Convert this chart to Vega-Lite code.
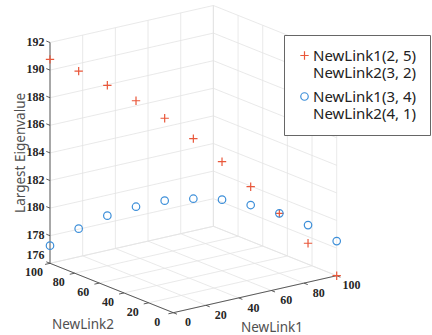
{
  "$schema": "https://vega.github.io/schema/vega-lite/v6.json",
  "width": 432,
  "height": 335,
  "padding": 0,
  "autosize": {"type": "none"},
  "background": "white",
  "config": {"view": {"stroke": null}},
  "datasets": {
    "ticks": [
      {"axis": "x", "v": 0}, {"axis": "x", "v": 20}, {"axis": "x", "v": 40}, {"axis": "x", "v": 60}, {"axis": "x", "v": 80}, {"axis": "x", "v": 100},
      {"axis": "y", "v": 0}, {"axis": "y", "v": 20}, {"axis": "y", "v": 40}, {"axis": "y", "v": 60}, {"axis": "y", "v": 80}, {"axis": "y", "v": 100},
      {"axis": "z", "v": 176}, {"axis": "z", "v": 178}, {"axis": "z", "v": 180}, {"axis": "z", "v": 182}, {"axis": "z", "v": 184}, {"axis": "z", "v": 186}, {"axis": "z", "v": 188}, {"axis": "z", "v": 190}, {"axis": "z", "v": 192}
    ],
    "titles": [
      {"axis": "x", "text": "NewLink1"},
      {"axis": "y", "text": "NewLink2"},
      {"axis": "z", "text": "Largest Eigenvalue"}
    ],
    "pts": [
      {"series": "NewLink1(2, 5)|NewLink2(3, 2)", "NewLink1": 0, "NewLink2": 100, "eig": 190.78},
      {"series": "NewLink1(2, 5)|NewLink2(3, 2)", "NewLink1": 10, "NewLink2": 90, "eig": 190.02},
      {"series": "NewLink1(2, 5)|NewLink2(3, 2)", "NewLink1": 20, "NewLink2": 80, "eig": 189.08},
      {"series": "NewLink1(2, 5)|NewLink2(3, 2)", "NewLink1": 30, "NewLink2": 70, "eig": 188.05},
      {"series": "NewLink1(2, 5)|NewLink2(3, 2)", "NewLink1": 40, "NewLink2": 60, "eig": 186.87},
      {"series": "NewLink1(2, 5)|NewLink2(3, 2)", "NewLink1": 50, "NewLink2": 50, "eig": 185.48},
      {"series": "NewLink1(2, 5)|NewLink2(3, 2)", "NewLink1": 60, "NewLink2": 40, "eig": 183.90},
      {"series": "NewLink1(2, 5)|NewLink2(3, 2)", "NewLink1": 70, "NewLink2": 30, "eig": 182.18},
      {"series": "NewLink1(2, 5)|NewLink2(3, 2)", "NewLink1": 80, "NewLink2": 20, "eig": 180.34},
      {"series": "NewLink1(2, 5)|NewLink2(3, 2)", "NewLink1": 90, "NewLink2": 10, "eig": 178.26},
      {"series": "NewLink1(2, 5)|NewLink2(3, 2)", "NewLink1": 100, "NewLink2": 0, "eig": 176.0},
      {"series": "NewLink1(3, 4)|NewLink2(4, 1)", "NewLink1": 0, "NewLink2": 100, "eig": 177.28},
      {"series": "NewLink1(3, 4)|NewLink2(4, 1)", "NewLink1": 10, "NewLink2": 90, "eig": 178.60},
      {"series": "NewLink1(3, 4)|NewLink2(4, 1)", "NewLink1": 20, "NewLink2": 80, "eig": 179.63},
      {"series": "NewLink1(3, 4)|NewLink2(4, 1)", "NewLink1": 30, "NewLink2": 70, "eig": 180.37},
      {"series": "NewLink1(3, 4)|NewLink2(4, 1)", "NewLink1": 40, "NewLink2": 60, "eig": 180.90},
      {"series": "NewLink1(3, 4)|NewLink2(4, 1)", "NewLink1": 50, "NewLink2": 50, "eig": 181.13},
      {"series": "NewLink1(3, 4)|NewLink2(4, 1)", "NewLink1": 60, "NewLink2": 40, "eig": 181.15},
      {"series": "NewLink1(3, 4)|NewLink2(4, 1)", "NewLink1": 70, "NewLink2": 30, "eig": 180.85},
      {"series": "NewLink1(3, 4)|NewLink2(4, 1)", "NewLink1": 80, "NewLink2": 20, "eig": 180.34},
      {"series": "NewLink1(3, 4)|NewLink2(4, 1)", "NewLink1": 90, "NewLink2": 10, "eig": 179.58},
      {"series": "NewLink1(3, 4)|NewLink2(4, 1)", "NewLink1": 100, "NewLink2": 0, "eig": 178.51}
    ]
  },
  "encoding": {
    "x": {"field": "u", "type": "quantitative", "scale": {"domain": [-173.3, 258.7], "nice": false, "zero": false}, "axis": null},
    "y": {"field": "w", "type": "quantitative", "scale": {"domain": [-22.3, 312.7], "nice": false, "zero": false}, "axis": null}
  },
  "layer": [
    {
      "data": {"name": "ticks"},
      "transform": [
        {"filter": "datum.axis === 'x'"},
        {"calculate": "1.634*datum.v - 1.233*0", "as": "u"},
        {"calculate": "0.37*datum.v + 0.494*0", "as": "w"},
        {"calculate": "1.634*datum.v - 1.233*100", "as": "u2"},
        {"calculate": "0.37*datum.v + 0.494*100", "as": "w2"}
      ],
      "mark": {"type": "rule", "color": "#e3e3e3", "strokeWidth": 0.8},
      "encoding": {"x2": {"field": "u2"}, "y2": {"field": "w2"}}
    },
    {
      "data": {"name": "ticks"},
      "transform": [
        {"filter": "datum.axis === 'x'"},
        {"calculate": "1.634*datum.v - 1.233*100", "as": "u"},
        {"calculate": "0.37*datum.v + 0.494*100", "as": "w"},
        {"calculate": "1.634*datum.v - 1.233*100", "as": "u2"},
        {"calculate": "0.37*datum.v + 0.494*100 + 13.8*(192-176)", "as": "w2"}
      ],
      "mark": {"type": "rule", "color": "#e3e3e3", "strokeWidth": 0.8},
      "encoding": {"x2": {"field": "u2"}, "y2": {"field": "w2"}}
    },
    {
      "data": {"name": "ticks"},
      "transform": [
        {"filter": "datum.axis === 'y'"},
        {"calculate": "1.634*0 - 1.233*datum.v", "as": "u"},
        {"calculate": "0.37*0 + 0.494*datum.v", "as": "w"},
        {"calculate": "1.634*100 - 1.233*datum.v", "as": "u2"},
        {"calculate": "0.37*100 + 0.494*datum.v", "as": "w2"}
      ],
      "mark": {"type": "rule", "color": "#e3e3e3", "strokeWidth": 0.8},
      "encoding": {"x2": {"field": "u2"}, "y2": {"field": "w2"}}
    },
    {
      "data": {"name": "ticks"},
      "transform": [
        {"filter": "datum.axis === 'y'"},
        {"calculate": "1.634*100 - 1.233*datum.v", "as": "u"},
        {"calculate": "0.37*100 + 0.494*datum.v", "as": "w"},
        {"calculate": "1.634*100 - 1.233*datum.v", "as": "u2"},
        {"calculate": "0.37*100 + 0.494*datum.v + 13.8*(192-176)", "as": "w2"}
      ],
      "mark": {"type": "rule", "color": "#e3e3e3", "strokeWidth": 0.8},
      "encoding": {"x2": {"field": "u2"}, "y2": {"field": "w2"}}
    },
    {
      "data": {"name": "ticks"},
      "transform": [
        {"filter": "datum.axis === 'z'"},
        {"calculate": "1.634*0 - 1.233*100", "as": "u"},
        {"calculate": "0.37*0 + 0.494*100 + 13.8*(datum.v-176)", "as": "w"},
        {"calculate": "1.634*100 - 1.233*100", "as": "u2"},
        {"calculate": "0.37*100 + 0.494*100 + 13.8*(datum.v-176)", "as": "w2"}
      ],
      "mark": {"type": "rule", "color": "#e3e3e3", "strokeWidth": 0.8},
      "encoding": {"x2": {"field": "u2"}, "y2": {"field": "w2"}}
    },
    {
      "data": {"name": "ticks"},
      "transform": [
        {"filter": "datum.axis === 'z'"},
        {"calculate": "1.634*100 - 1.233*100", "as": "u"},
        {"calculate": "0.37*100 + 0.494*100 + 13.8*(datum.v-176)", "as": "w"},
        {"calculate": "1.634*100 - 1.233*0", "as": "u2"},
        {"calculate": "0.37*100 + 0.494*0 + 13.8*(datum.v-176)", "as": "w2"}
      ],
      "mark": {"type": "rule", "color": "#e3e3e3", "strokeWidth": 0.8},
      "encoding": {"x2": {"field": "u2"}, "y2": {"field": "w2"}}
    },
    {
      "data": {"name": "ticks"},
      "transform": [
        {"aggregate": [{"op": "min", "field": "v", "as": "lo"}, {"op": "max", "field": "v", "as": "hi"}], "groupby": ["axis"]},
        {"calculate": "datum.axis === 'x' ? 1.634*datum.lo : datum.axis === 'y' ? -1.233*datum.lo : -1.233*100", "as": "u"},
        {"calculate": "datum.axis === 'x' ? 0.37*datum.lo : datum.axis === 'y' ? 0.494*datum.lo : 0.494*100 + 13.8*(datum.lo-176)", "as": "w"},
        {"calculate": "datum.axis === 'x' ? 1.634*datum.hi : datum.axis === 'y' ? -1.233*datum.hi : -1.233*100", "as": "u2"},
        {"calculate": "datum.axis === 'x' ? 0.37*datum.hi : datum.axis === 'y' ? 0.494*datum.hi : 0.494*100 + 13.8*(datum.hi-176)", "as": "w2"}
      ],
      "mark": {"type": "rule", "color": "#4a4a4a", "strokeWidth": 0.9},
      "encoding": {"x2": {"field": "u2"}, "y2": {"field": "w2"}}
    },
    {
      "data": {"name": "ticks"},
      "transform": [
        {"calculate": "datum.axis === 'x' ? 1.634*datum.v : datum.axis === 'y' ? -1.233*datum.v : -1.233*100", "as": "u"},
        {"calculate": "datum.axis === 'x' ? 0.37*datum.v : datum.axis === 'y' ? 0.494*datum.v : 0.494*100 + 13.8*(datum.v-176)", "as": "w"},
        {"calculate": "datum.axis === 'x' ? 1.634*datum.v - 1.233*(-3) : datum.axis === 'y' ? 1.634*(-3) - 1.233*datum.v : -1.233*103", "as": "u2"},
        {"calculate": "datum.axis === 'x' ? 0.37*datum.v + 0.494*(-3) : datum.axis === 'y' ? 0.37*(-3) + 0.494*datum.v : 0.494*103 + 13.8*(datum.v-176)", "as": "w2"}
      ],
      "mark": {"type": "rule", "color": "#4a4a4a", "strokeWidth": 0.9},
      "encoding": {"x2": {"field": "u2"}, "y2": {"field": "w2"}}
    },
    {
      "data": {"name": "ticks"},
      "transform": [
        {"filter": "datum.axis === 'z'"},
        {"calculate": "-1.233*100", "as": "u"},
        {"calculate": "0.494*100 + 13.8*(datum.v-176) + (datum.v === 176 ? 7 : 0)", "as": "w"}
      ],
      "mark": {"type": "text", "align": "right", "baseline": "middle", "dx": -5.5, "dy": -1, "font": "Liberation Serif", "fontWeight": "bold", "fontSize": 12, "color": "#262626"},
      "encoding": {"text": {"field": "v", "type": "quantitative", "format": "d"}}
    },
    {
      "data": {"name": "ticks"},
      "transform": [
        {"filter": "datum.axis === 'y'"},
        {"calculate": "-1.233*datum.v", "as": "u"},
        {"calculate": "0.494*datum.v", "as": "w"}
      ],
      "mark": {"type": "text", "align": "center", "baseline": "middle", "dx": -16, "dy": 8.8, "font": "Liberation Serif", "fontWeight": "bold", "fontSize": 12, "color": "#262626"},
      "encoding": {"text": {"field": "v", "type": "quantitative", "format": "d"}}
    },
    {
      "data": {"name": "ticks"},
      "transform": [
        {"filter": "datum.axis === 'x'"},
        {"calculate": "1.634*datum.v", "as": "u"},
        {"calculate": "0.37*datum.v", "as": "w"}
      ],
      "mark": {"type": "text", "align": "center", "baseline": "middle", "dx": 14.8, "dy": 9.6, "font": "Liberation Serif", "fontWeight": "bold", "fontSize": 12, "color": "#262626"},
      "encoding": {"text": {"field": "v", "type": "quantitative", "format": "d"}}
    },
    {
      "data": {"name": "titles"},
      "transform": [
        {"filter": "datum.axis === 'x'"},
        {"calculate": "1.634*50", "as": "u"},
        {"calculate": "0.37*50", "as": "w"}
      ],
      "mark": {"type": "text", "align": "center", "baseline": "middle", "dx": 17, "dy": 33.8, "font": "Noto Sans", "fontSize": 13.5, "color": "#505050"},
      "encoding": {"text": {"field": "text"}}
    },
    {
      "data": {"name": "titles"},
      "transform": [
        {"filter": "datum.axis === 'y'"},
        {"calculate": "-1.233*50", "as": "u"},
        {"calculate": "0.494*50", "as": "w"}
      ],
      "mark": {"type": "text", "align": "center", "baseline": "middle", "dx": -28.7, "dy": 37, "font": "Noto Sans", "fontSize": 13.5, "color": "#505050"},
      "encoding": {"text": {"field": "text"}}
    },
    {
      "data": {"name": "titles"},
      "transform": [
        {"filter": "datum.axis === 'z'"},
        {"calculate": "-1.233*100", "as": "u"},
        {"calculate": "0.494*100 + 13.8*(184-176)", "as": "w"}
      ],
      "mark": {"type": "text", "align": "center", "baseline": "middle", "angle": 270, "dy": -29, "font": "Noto Sans", "fontSize": 13.5, "color": "#505050"},
      "encoding": {"text": {"field": "text"}}
    },
    {
      "data": {"name": "pts"},
      "transform": [
        {"calculate": "1.634*datum.NewLink1 - 1.233*datum.NewLink2", "as": "u"},
        {"calculate": "0.37*datum.NewLink1 + 0.494*datum.NewLink2 + 13.8*(datum.eig-176)", "as": "w"}
      ],
      "mark": {"type": "point", "filled": false, "strokeWidth": 1.2, "opacity": 1},
      "encoding": {
        "color": {
          "field": "series", "type": "nominal",
          "scale": {"domain": ["NewLink1(2, 5)|NewLink2(3, 2)", "NewLink1(3, 4)|NewLink2(4, 1)"], "range": ["#E9573A", "#3D8FD9"]},
          "legend": {
            "title": null, "orient": "none", "legendX": 284, "legendY": 35,
            "labelExpr": "split(datum.label, '|')",
            "fillColor": "#ffffff", "strokeColor": "#666666", "padding": 13,
            "labelFont": "Noto Sans", "labelFontSize": 15, "labelColor": "#222222", "labelLimit": 0,
            "labelOffset": 1, "rowPadding": 8, "symbolStrokeWidth": 1.2, "labelBaseline": "middle",
            "encode": {"labels": {"update": {"dy": {"value": 10}, "lineHeight": {"value": 20}}}}
          }
        },
        "shape": {
          "field": "series", "type": "nominal",
          "scale": {"domain": ["NewLink1(2, 5)|NewLink2(3, 2)", "NewLink1(3, 4)|NewLink2(4, 1)"], "range": ["M-1,0H1M0,-1V1", "circle"]},
          "legend": {
            "title": null, "orient": "none", "legendX": 284, "legendY": 35,
            "labelExpr": "split(datum.label, '|')",
            "fillColor": "#ffffff", "strokeColor": "#666666", "padding": 13,
            "labelFont": "Noto Sans", "labelFontSize": 15, "labelColor": "#222222", "labelLimit": 0,
            "labelOffset": 1, "rowPadding": 8, "symbolStrokeWidth": 1.2, "labelBaseline": "middle",
            "encode": {"labels": {"update": {"dy": {"value": 10}, "lineHeight": {"value": 20}}}}
          }
        },
        "size": {"field": "series", "type": "nominal", "scale": {"domain": ["NewLink1(2, 5)|NewLink2(3, 2)", "NewLink1(3, 4)|NewLink2(4, 1)"], "range": [70, 56]}, "legend": null}
      }
    }
  ]
}
